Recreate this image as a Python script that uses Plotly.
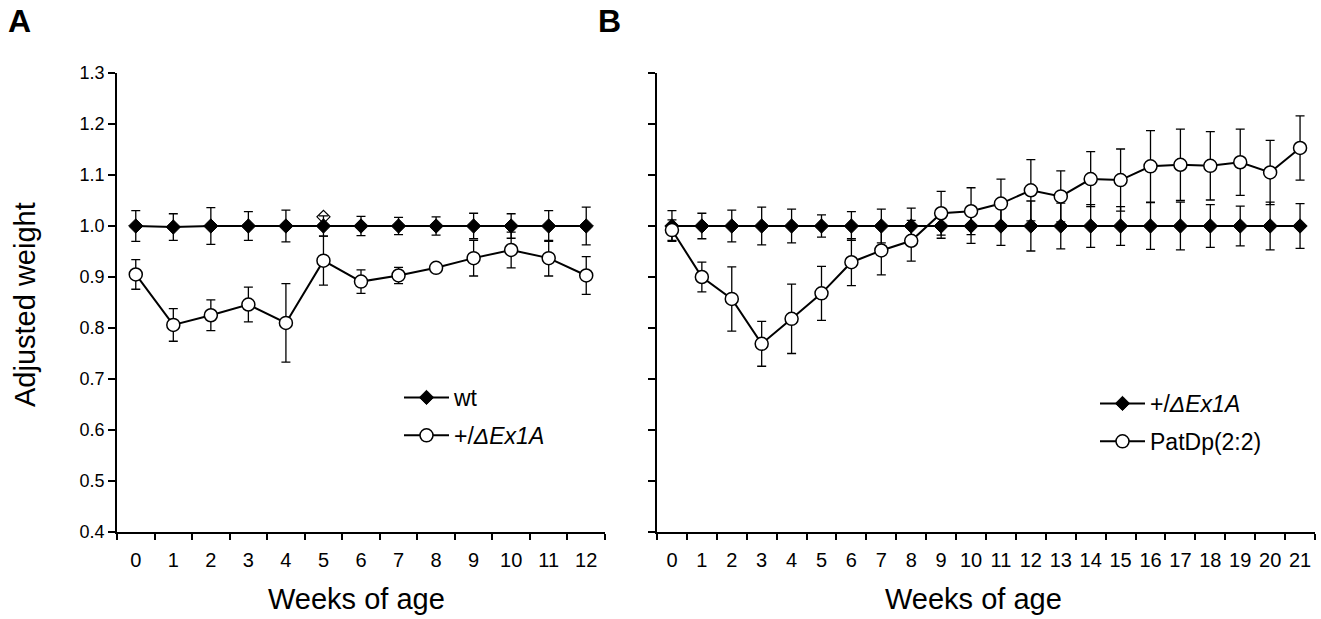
import plotly.graph_objects as go

# ---------------- data ----------------
weeks_a = list(range(0, 13))
wt_a = [1.0, 0.998, 1.0, 1.0, 1.0, 1.0, 1.0, 1.0, 1.0, 1.0, 1.0, 1.0, 1.0]
wt_a_err = [0.030, 0.026, 0.036, 0.028, 0.031, 0.020, 0.019, 0.017, 0.018, 0.025, 0.024, 0.030, 0.037]
mut_a = [0.905, 0.806, 0.825, 0.846, 0.810, 0.932, 0.891, 0.903, 0.918, 0.937, 0.953, 0.937, 0.903]
mut_a_err = [0.029, 0.032, 0.030, 0.034, 0.077, 0.048, 0.023, 0.016, 0.005, 0.035, 0.035, 0.035, 0.037]
stray_x = [5]
stray_y = [1.018]

weeks_b = list(range(0, 22))
het_b = [1.0] * 22
het_b_err = [0.030, 0.025, 0.031, 0.037, 0.033, 0.022, 0.028, 0.033, 0.035, 0.024, 0.034,
             0.038, 0.049, 0.045, 0.042, 0.038, 0.046, 0.047, 0.042, 0.039, 0.047, 0.044]
pat_b = [0.992, 0.900, 0.857, 0.769, 0.818, 0.868, 0.929, 0.952, 0.971, 1.025, 1.029,
         1.044, 1.070, 1.058, 1.092, 1.090, 1.117, 1.120, 1.118, 1.125, 1.105, 1.153]
pat_b_err = [0.020, 0.029, 0.063, 0.044, 0.068, 0.053, 0.046, 0.048, 0.040, 0.043, 0.046,
             0.048, 0.060, 0.050, 0.054, 0.061, 0.070, 0.070, 0.067, 0.065, 0.063, 0.063]

y_ticks = [0.4, 0.5, 0.6, 0.7, 0.8, 0.9, 1.0, 1.1, 1.2, 1.3]
y_labels = ["0.4", "0.5", "0.6", "0.7", "0.8", "0.9", "1.0", "1.1", "1.2", "1.3"]

W, H = 1321, 619
FONT = "Liberation Sans, Arial, sans-serif"

def err(vals):
    return dict(type="data", array=vals, visible=True, color="black", thickness=1.3, width=4.5)

def filled(x, y, e, name, xa, ya, legend):
    return go.Scatter(x=x, y=y, mode="lines+markers", name=name, xaxis=xa, yaxis=ya,
                      legend=legend, legendgroup=legend + name,
                      line=dict(color="black", width=2),
                      marker=dict(symbol="diamond", size=11, color="black",
                                  line=dict(color="black", width=1)),
                      error_y=err(e))

def hollow(x, y, e, name, xa, ya, legend):
    return go.Scatter(x=x, y=y, mode="lines+markers", name=name, xaxis=xa, yaxis=ya,
                      legend=legend, legendgroup=legend + name,
                      line=dict(color="black", width=2),
                      marker=dict(symbol="circle", size=13, color="white",
                                  line=dict(color="black", width=1.5)),
                      error_y=err(e))

fig = go.Figure()
fig.add_trace(filled(weeks_a, wt_a, wt_a_err, "wt", "x", "y", "legend"))
fig.add_trace(hollow(weeks_a, mut_a, mut_a_err, "+/<i>ΔEx1A</i>", "x", "y", "legend"))
fig.add_trace(go.Scatter(x=stray_x, y=stray_y, mode="markers", showlegend=False,
                         xaxis="x", yaxis="y",
                         marker=dict(symbol="diamond-open", size=10, color="black",
                                     line=dict(width=1.2))))
fig.add_trace(filled(weeks_b, het_b, het_b_err, "+/<i>ΔEx1A</i>", "x2", "y2", "legend2"))
fig.add_trace(hollow(weeks_b, pat_b, pat_b_err, "PatDp(2:2)", "x2", "y2", "legend2"))

def xaxis(domain, anchor, n):
    return dict(domain=domain, anchor=anchor, type="category", tickson="boundaries",
                range=[-0.5, n - 0.5],
                ticks="outside", ticklen=6, tickwidth=1.5, tickcolor="black", showline=True,
                linecolor="black", linewidth=1.5, showgrid=False, zeroline=False,
                tickangle=0, automargin=False, ticklabelstandoff=9,
                tickfont=dict(family=FONT, size=20, color="black"))

def yaxis(domain, anchor, labels):
    return dict(domain=domain, anchor=anchor, range=[0.4, 1.3], tickmode="array",
                tickvals=y_ticks, ticktext=y_labels if labels else [""] * len(y_ticks),
                ticks="outside", ticklen=7, tickwidth=1.5, tickcolor="black",
                showline=True, linecolor="black", linewidth=1.5, showgrid=False,
                zeroline=False, showticklabels=labels, automargin=False,
                tickfont=dict(family=FONT, size=18, color="black"))

ydom = [1 - 532 / H, 1 - 73 / H]

annotations = [
    dict(text="<b>A</b>", x=6 / W, y=1 - 1 / H, xref="paper", yref="paper",
         xanchor="left", yanchor="top", showarrow=False,
         font=dict(family=FONT, size=32, color="black")),
    dict(text="<b>B</b>", x=596 / W, y=1 - 1 / H, xref="paper", yref="paper",
         xanchor="left", yanchor="top", showarrow=False,
         font=dict(family=FONT, size=32, color="black")),
    dict(text="Adjusted weight", x=25 / W, y=1 - 305 / H, xref="paper", yref="paper",
         textangle=-90, xanchor="center", yanchor="middle", showarrow=False,
         font=dict(family=FONT, size=29, color="black")),
    dict(text="Weeks of age", x=356 / W, y=1 - 599 / H, xref="paper", yref="paper",
         xanchor="center", yanchor="middle", showarrow=False,
         font=dict(family=FONT, size=29, color="black")),
    dict(text="Weeks of age", x=973 / W, y=1 - 599 / H, xref="paper", yref="paper",
         xanchor="center", yanchor="middle", showarrow=False,
         font=dict(family=FONT, size=29, color="black")),
]

legend_common = dict(font=dict(family=FONT, size=23, color="black"), bgcolor="rgba(0,0,0,0)",
                     tracegroupgap=5, itemwidth=45, xanchor="left", yanchor="top",
                     xref="paper", yref="paper")

fig.update_layout(
    template="none",
    width=W, height=H, margin=dict(l=0, r=0, t=0, b=0, autoexpand=False),
    paper_bgcolor="white", plot_bgcolor="white",
    xaxis=xaxis([117 / W, 605 / W], "y", len(weeks_a)), yaxis=yaxis(ydom, "x", True),
    xaxis2=xaxis([657 / W, 1315 / W], "y2", len(weeks_b)), yaxis2=yaxis(ydom, "x2", False),
    annotations=annotations,
    legend=dict(x=399 / W, y=1 - 376 / H, **legend_common),
    legend2=dict(x=1095 / W, y=1 - 382 / H, **legend_common),
    showlegend=True,
)

fig.write_html("out.html", config={"displayModeBar": False},
               post_script="document.body.style.margin='0px';")
